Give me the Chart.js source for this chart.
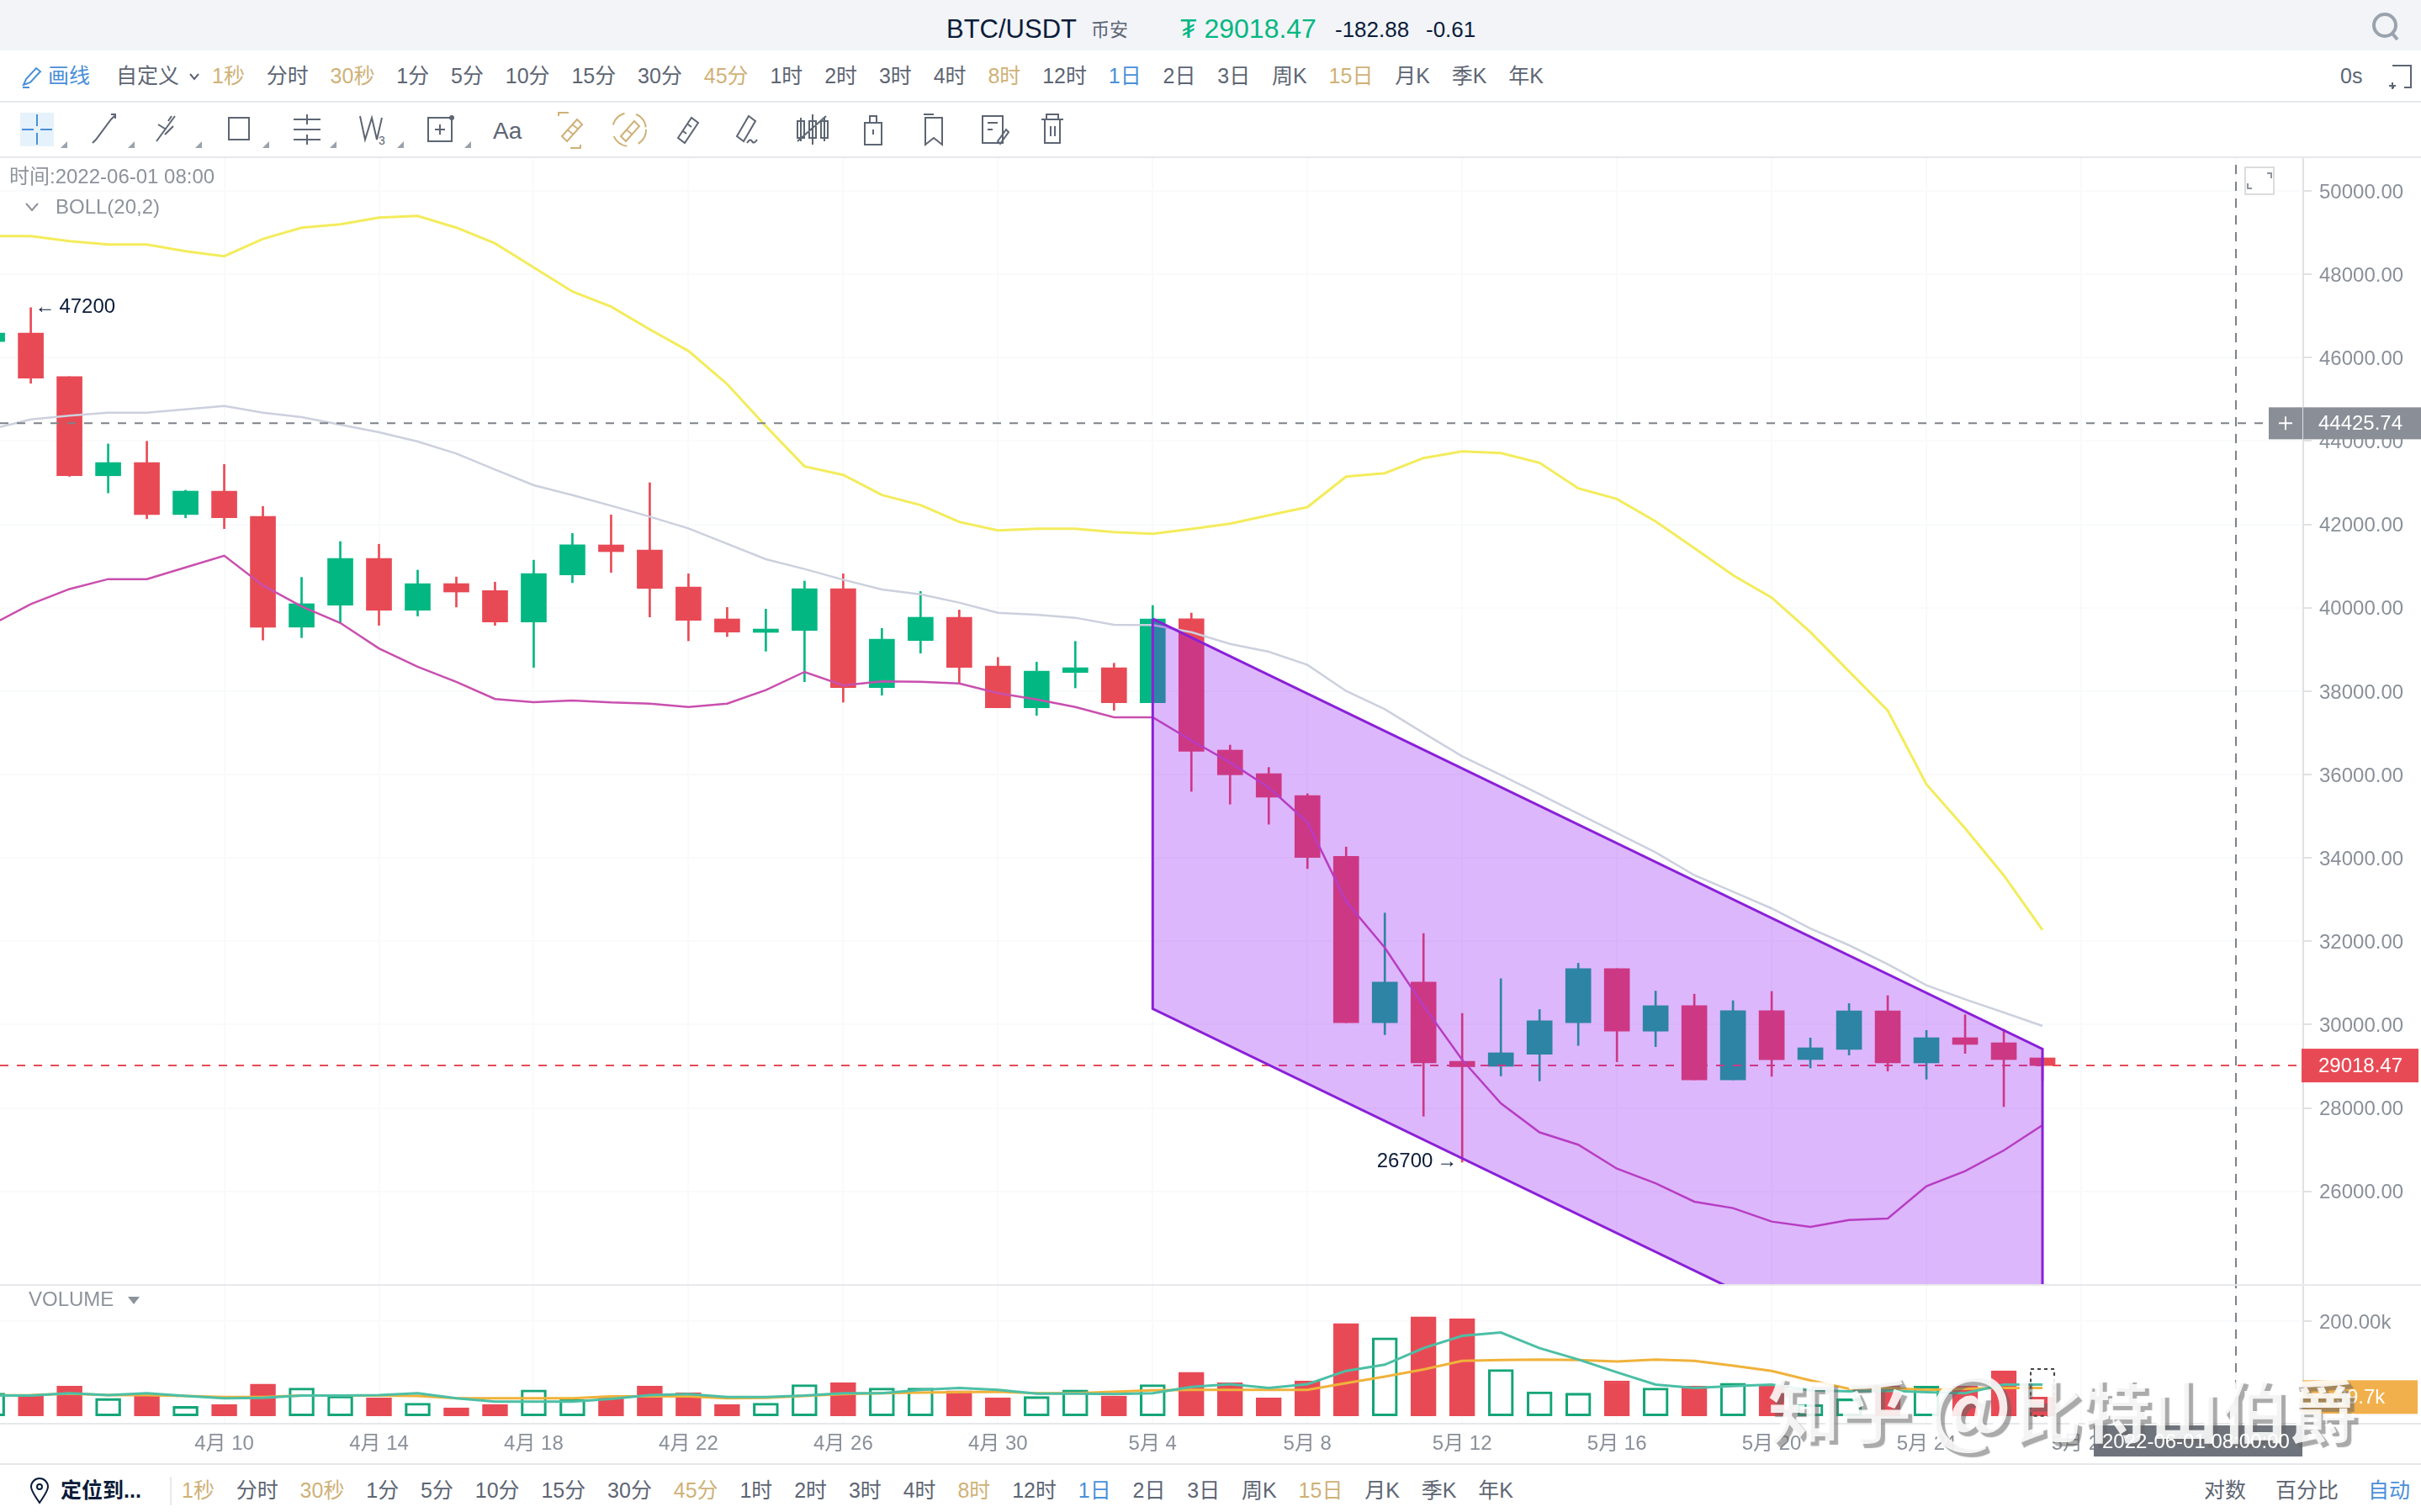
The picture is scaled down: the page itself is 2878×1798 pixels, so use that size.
<!DOCTYPE html>
<html lang="zh">
<head>
<meta charset="UTF-8">
<title>BTC/USDT</title>
<script src="https://cdn.jsdelivr.net/npm/chart.js"></script>
<style>
    * { box-sizing: border-box; }
    html, body { margin: 0; padding: 0; background: #fff; overflow: hidden; }
    body { width: 2878px; height: 1798px; position: relative; font-family: 'Liberation Sans', 'Noto Sans CJK SC', sans-serif; color: #5d6573; }
    canvas { position: absolute; left: 0; }
    .abs { position: absolute; white-space: nowrap; line-height: 1; }
    .hline { position: absolute; left: 0; width: 2878px; height: 2px; background: #e6e8eb; }
    #header { position: absolute; left: 0; top: 0; width: 2878px; height: 60px; background: #f2f4f8; }
    .periods { position: absolute; display: flex; gap: 25.85px; font-size: 25px; line-height: 1; white-space: nowrap; }
    .gold { color: #cfb177; }
    .blue { color: #4a8fd8; }
    #watermark { position: absolute; left: 2102px; top: 1606px; font-family: 'Noto Sans CJK SC', sans-serif; font-weight: bold; font-size: 85px; line-height: 1.2; color: rgba(255, 255, 255, 0.88); text-shadow: 5px 5px 1px rgba(100, 100, 100, 0.55); white-space: pre; z-index: 5; }
    #watermark .at { font-size: 100px; }
    #watermark .name { font-size: 82px; }
    #dateText { left: 2499px; top: 1702px; font-size: 24px; color: #fff; z-index: 6; }
</style>
</head>
<body>
<div id="header"></div>
<div class="abs" style="left:1125px;top:19px;font-size:31px;color:#0b1c3a">BTC/USDT</div>
<div class="abs" style="left:1297px;top:25px;font-size:22px;color:#5d6573">币安</div>
<div class="abs" style="left:1403px;top:18px;font-size:32px;color:#03b782">₮ 29018.47</div>
<div class="abs" style="left:1587px;top:22px;font-size:26px;color:#0b1c3a">-182.88</div>
<div class="abs" style="left:1695px;top:22px;font-size:26px;color:#0b1c3a">-0.61</div>
<svg class="abs" style="left:2815px;top:12px" width="42" height="42" fill="none" stroke="#9aa2ad" stroke-width="4"><circle cx="20" cy="18" r="13"/><path d="M29 28l6 7"/></svg>

<svg class="abs" style="left:24px;top:76px" width="30" height="30" fill="none" stroke="#4a8fd8" stroke-width="2"><path d="M4 25l3-7L19 5l5 4-12 13zM3 28h8"/></svg>
<div class="abs blue" style="left:57px;top:78px;font-size:25px">画线</div>
<div class="abs" style="left:138px;top:78px;font-size:25px">自定义</div>
<svg class="abs" style="left:224px;top:86px" width="14" height="10" fill="none" stroke="#5d6573" stroke-width="2"><path d="M2 2l5 6 5-6"/></svg>
<div class="periods" id="topPeriods" style="left:252px;top:78px"></div>
<div class="abs" style="left:2782px;top:78px;font-size:25px">0s</div>
<svg class="abs" style="left:2838px;top:76px" width="32" height="32" fill="none" stroke="#5d6573" stroke-width="2"><path d="M6 2h22v26h-8M6 22v2M6 28h2M2 26h8M6 22v8"/></svg>
<div class="hline" style="top:120px"></div>

<svg class="abs" style="left:0;top:122px" width="1300" height="64" fill="none" stroke="#5d6573" stroke-width="2">
    <rect x="24" y="12" width="40" height="40" fill="#e6f2fb" stroke="none"/>
    <path d="M44 14v14M44 36v14M26 32h14M48 32h14" stroke="#4a8fd8"/>
    <path d="M110 48l4-4 18-24 4-4M132 14h5v5"/>
    <path d="M186 46l22-30M188 26l8 5M196 38l10-10M204 16l-4 6"/>
    <path d="M272 18h24v26h-24z"/>
    <path d="M349 20h32M349 44h32M349 32h32M365 14v12M365 38v12"/>
    <path d="M428 16l6 28 8-26 6 26 6-26"/><text x="450" y="50" font-size="14" fill="#5d6573" stroke="none">3</text>
    <path d="M509 18h28v28h-28zM523 26v12M517 32h12"/><circle cx="537" cy="18" r="2"/>
    <g stroke="#cfb177"><path d="M664 16v-4h12M690 50v4h-12M668 40l18-20 6 6-18 20zM674 32l8 6M680 26l8 6"/></g>
    <g stroke="#cfb177"><circle cx="748" cy="32" r="20" stroke-dasharray="20 14"/><path d="M738 40l16-18 6 6-16 18zM744 32l8 6"/></g>
    <path d="M806 42l16-24 8 6-16 24zM812 34l4 3M818 26l4 3"/>
    <path d="M876 40l14-24 8 6-14 24zM888 48q4-6 6-2t6-2"/>
    <path d="M952 18v28M966 14v36M980 18v28M948 22h8v20h-8zM962 22h8v20h-8zM976 22h8v20h-8zM948 46l34-30"/>
    <path d="M1028 24h20v26h-20zM1034 24v-8h8v8M1038 32v6"/>
    <path d="M1098 14h12M1100 18h20v32l-10-8-10 8z"/>
    <path d="M1168 16h24v32h-24zM1174 24h12M1174 32h6M1186 46l10-14 3 3-10 14z"/>
    <path d="M1238 20h26M1244 20v-6h14v6M1242 20v28h18v-28M1249 28v12M1254 28v12"/>
    <g fill="#9aa2ad" stroke="none"><path d="M72 54h8v-8zM152 54h8v-8zM232 54h8v-8zM312 54h8v-8zM392 54h8v-8zM472 54h8v-8zM552 54h8v-8z"/></g>
</svg>
<div class="abs" style="left:586px;top:142px;font-size:28px">Aa</div>
<div class="hline" style="top:186px"></div>

<canvas id="priceChart" width="2878" height="1339" style="top:188px"></canvas>
<div class="abs" style="left:11px;top:198px;font-size:24px;color:#8d939c">时间:2022-06-01 08:00</div>
<svg class="abs" style="left:29px;top:240px" width="18" height="12" fill="none" stroke="#8d939c" stroke-width="2"><path d="M2 2l7 8 7-8"/></svg>
<div class="abs" style="left:66px;top:234px;font-size:24px;color:#8d939c">BOLL(20,2)</div>
<svg class="abs" style="left:2668px;top:198px" width="36" height="34" fill="#fff" stroke="#dcdcdc" stroke-width="2"><rect x="1" y="1" width="34" height="32"/><path d="M27 8h5v6M9 26H4v-6" fill="none" stroke="#8d939c"/></svg>

<div class="hline" style="top:1527px"></div>
<canvas id="volumeChart" width="2878" height="211" style="top:1529px"></canvas>
<div class="abs" style="left:34px;top:1533px;font-size:24px;color:#8d939c">VOLUME</div>
<svg class="abs" style="left:150px;top:1540px" width="18" height="12" fill="#8d939c"><path d="M2 2h14l-7 9z"/></svg>
<div class="hline" style="top:1692px"></div>
<div class="hline" style="top:1740px"></div>

<svg class="abs" style="left:34px;top:1757px" width="26" height="32" fill="none" stroke="#0b1c3a" stroke-width="2"><path d="M13 30C6 20 3 15 3 11a10 10 0 0 1 20 0c0 4-3 9-10 19z"/><circle cx="13" cy="11" r="3"/></svg>
<div class="abs" style="left:72px;top:1760px;font-size:25px;font-weight:bold;color:#0b1c3a">定位到...</div>
<div class="abs" style="left:202px;top:1756px;width:2px;height:34px;background:#e6e8eb"></div>
<div class="periods" id="bottomPeriods" style="left:216px;top:1760px"></div>
<div class="abs" style="left:2620px;top:1760px;font-size:25px">对数</div>
<div class="abs" style="left:2705px;top:1760px;font-size:25px">百分比</div>
<div class="abs blue" style="left:2815px;top:1760px;font-size:25px">自动</div>

<div id="watermark">知乎 <span class="at">@</span><span class="name">比特山伯爵</span></div>
<div class="abs" id="dateText">2022-06-01 08:00:00</div>

<script>
    // daily candles, 4月4 .. 5月27 (index 0 = 4月4)
    const opens = [46387, 46590, 45544, 43167, 43484, 42237, 42799, 42194, 39535, 40061, 41185, 39939, 40580, 40414, 39658, 40789, 41508, 41387, 40499, 39733, 39410, 39457, 40459, 38085, 39215, 39773, 38603, 37601, 38448, 38562, 37722, 39735, 36586, 36021, 35493, 34039, 30046, 31019, 29120, 29000, 29287, 30046, 31343, 29843, 30454, 28675, 30334, 29162, 29404, 30331, 29081, 29686, 29565, 29202];
    const closes = [46590, 45508, 43167, 43484, 42237, 42799, 42158, 39535, 40097, 41185, 39939, 40580, 40378, 39658, 40818, 41510, 41346, 40465, 39699, 39417, 39490, 40459, 38085, 39248, 39773, 38569, 37601, 38482, 38562, 37722, 39733, 36558, 35993, 35456, 34011, 30046, 31019, 29083, 28990, 29324, 30093, 31343, 29843, 30454, 28675, 30334, 29157, 29444, 30331, 29081, 29686, 29525, 29161, 29018];
    const highs = [46700, 47200, 45544, 43930, 43995, 42821, 43440, 42432, 40731, 41589, 41524, 40904, 40739, 40616, 41142, 41783, 42227, 43000, 40815, 40008, 39968, 40640, 40815, 39504, 40392, 39948, 38811, 38697, 39195, 38670, 40055, 39874, 36706, 36169, 35539, 34261, 32677, 32186, 30269, 31102, 30361, 31473, 31343, 30806, 30732, 30574, 30797, 29679, 30506, 30695, 29861, 30237, 29888, 29202];
    const lows = [46200, 45386, 43152, 42756, 42136, 42158, 41899, 39225, 39283, 39651, 39579, 39802, 40018, 39579, 38570, 40602, 40849, 39780, 39208, 39309, 38959, 38226, 37735, 37904, 38912, 38186, 37601, 37420, 38078, 37541, 37722, 35595, 35289, 34807, 33742, 30046, 29759, 27804, 26700, 28768, 28648, 29500, 29110, 29472, 28675, 28675, 28759, 28960, 29269, 28886, 28691, 29309, 28032, 28658];

    const bollUpper = [48918, 48918, 48797, 48716, 48716, 48555, 48434, 48850, 49119, 49200, 49361, 49402, 49119, 48743, 48165, 47586, 47223, 46679, 46161, 45367, 44359, 43391, 43189, 42705, 42464, 42060, 41858, 41898, 41898, 41817, 41777, 41891, 42019, 42220, 42415, 43148, 43229, 43592, 43753, 43713, 43478, 42866, 42610, 42072, 41434, 40781, 40243, 39416, 38475, 37534, 35765, 34710, 33580, 32270];
    const bollMid = [44291, 44520, 44608, 44682, 44682, 44762, 44843, 44682, 44574, 44392, 44211, 43989, 43700, 43317, 42940, 42705, 42449, 42187, 41904, 41535, 41165, 40930, 40674, 40439, 40324, 40123, 39881, 39833, 39760, 39591, 39585, 39416, 39134, 38946, 38630, 38004, 37567, 36996, 36438, 35987, 35530, 35059, 34594, 34131, 33585, 33187, 32788, 32308, 31905, 31448, 30943, 30607, 30291, 29968];
    const bollLower = [39600, 40090, 40450, 40688, 40688, 40969, 41250, 40537, 40033, 39636, 39024, 38584, 38224, 37813, 37734, 37777, 37729, 37702, 37621, 37702, 38025, 38462, 38139, 38233, 38226, 38186, 37951, 37803, 37621, 37372, 37372, 36818, 36290, 35688, 34854, 32955, 31844, 30454, 29157, 28110, 27416, 27119, 26545, 26193, 25752, 25598, 25275, 25147, 25315, 25349, 26122, 26485, 26983, 27588];

    // volume, in thousands
    const volumes = [48, 43, 63, 37, 43, 20, 24, 67, 59, 42, 38, 27, 17, 24, 55, 35, 42, 63, 49, 24, 27, 66, 70, 59, 59, 53, 38, 41, 55, 42, 66, 92, 70, 38, 74, 195, 165, 209, 205, 98, 51, 48, 74, 59, 63, 69, 63, 24, 36, 63, 63, 63, 95, 39.7];
    const volMa5 = [43, 43, 48, 44, 48, 42, 37, 38, 43, 43, 44, 48, 37, 30, 30, 30, 36, 44, 46, 40, 40, 43, 48, 48, 55, 59, 55, 47, 47, 46, 48, 61, 67, 59, 67, 95, 108, 143, 169, 176, 143, 119, 92, 66, 59, 63, 66, 54, 52, 53, 50, 48, 66, 66];
    const volMa10 = [43, 44, 47, 44, 44, 42, 40, 40, 43, 43, 43, 42, 37, 37, 37, 37, 41, 41, 41, 37, 38, 42, 46, 48, 49, 50, 51, 48, 48, 51, 54, 55, 55, 55, 55, 69, 83, 98, 116, 118, 119, 118, 115, 119, 116, 106, 95, 75, 57, 59, 55, 57, 59, 59];
    const volPredicted = 98.8;
    const volTicks = [200];

    const tickDays = [6, 10, 14, 18, 22, 26, 30, 34, 38, 42, 46, 50, 54, 58];
    const tickLabels = ['4月 10', '4月 14', '4月 18', '4月 22', '4月 26', '4月 30', '5月 4', '5月 8', '5月 12', '5月 16', '5月 20', '5月 24', '5月 28', ''];
    const priceTicks = [26000, 28000, 30000, 32000, 34000, 36000, 38000, 40000, 42000, 44000, 46000, 48000, 50000];

    const lastPrice = 29018.47;
    const crossPrice = 44425.74;
    const crossDay = 58;
    const channelPrices = [39735, 29417, 20062, 30380, 39735];
    const channelDays = [30, 53, 53, 30, 30];

    const periodNames = ['1秒', '分时', '30秒', '1分', '5分', '10分', '15分', '30分', '45分', '1时', '2时', '3时', '4时', '8时', '12时', '1日', '2日', '3日', '周K', '15日', '月K', '季K', '年K'];
    const goldPeriods = ['1秒', '30秒', '45分', '8时', '15日'];

    const RED = '#e84a55', GREEN = '#03b782';
    const X_MIN = 0.204, X_MAX = 59.74;
    const AXIS_COLOR = '#dfe1e4', GRID_COLOR = '#f9fafb', LABEL_COLOR = '#8a9099';
    const FONT = "'Liberation Sans', 'Noto Sans CJK SC', sans-serif";

    ['topPeriods', 'bottomPeriods'].forEach(id => {
        document.getElementById(id).innerHTML = periodNames.map(p => {
            let cls = goldPeriods.includes(p) ? 'gold' : (p === '1日' ? 'blue' : '');
            return `<span class="${cls}">${p}</span>`;
        }).join('');
    });

    function isUp(i) { return closes[i] >= opens[i]; }
    function series(values) { return values.map((v, i) => ({ x: i, y: v })); }
    function lineSet(values, color, width, order) {
        return { type: 'line', data: series(values), borderColor: color, borderWidth: width, pointRadius: 0, tension: 0, fill: false, order: order };
    }
    function dashSet(points, color, dash, order) {
        return { type: 'line', data: points, borderColor: color, borderWidth: 2, borderDash: dash, pointRadius: 0, tension: 0, fill: false, order: order };
    }
    // no label margins: the panes have to fill their canvas exactly
    function noPadding(s) {
        s.paddingTop = s.paddingBottom = s.paddingLeft = s.paddingRight = 0;
    }
    function xAxis(showLabels) {
        return {
            type: 'linear', min: X_MIN, max: X_MAX, offset: false,
            afterBuildTicks: s => { s.ticks = tickDays.map(d => ({ value: d })); },
            afterFit: s => { s.height = showLabels ? 48 : 0; noPadding(s); },
            grid: { color: GRID_COLOR, lineWidth: 2, drawTicks: false, offset: false },
            border: { display: false },
            ticks: {
                display: showLabels, autoSkip: false, maxRotation: 0, padding: 11, color: LABEL_COLOR,
                font: { size: 24, family: FONT },
                callback: v => tickLabels[tickDays.indexOf(v)]
            }
        };
    }
    function yAxis(min, max, values, format) {
        return {
            position: 'right', min: min, max: max,
            afterBuildTicks: s => { s.ticks = values.map(v => ({ value: v })); },
            afterFit: s => { s.width = 140; noPadding(s); },
            grid: { color: GRID_COLOR, lineWidth: 2, tickColor: AXIS_COLOR, tickLength: 10 },
            border: { display: true, color: AXIS_COLOR, width: 2 },
            ticks: { autoSkip: false, padding: 9, labelOffset: 2, color: LABEL_COLOR, font: { size: 24, family: FONT }, callback: format }
        };
    }
    function tag(ctx, text, y, left, right, height, bg) {
        ctx.save();
        ctx.fillStyle = bg;
        ctx.fillRect(left, y - height / 2, right - left, height);
        ctx.fillStyle = '#fff';
        ctx.font = '24px ' + FONT;
        ctx.textAlign = 'center';
        ctx.textBaseline = 'middle';
        ctx.fillText(text, 2806, y + 1);
        ctx.restore();
    }

    const priceTags = {
        id: 'priceTags',
        afterDraw(chart) {
            const ctx = chart.ctx, x = chart.scales.x, y = chart.scales.y;
            let yCross = y.getPixelForValue(crossPrice);
            ctx.fillStyle = '#8a8e96';
            ctx.fillRect(2697, yCross - 19, 40, 38);
            ctx.strokeStyle = '#fff';
            ctx.lineWidth = 2;
            ctx.beginPath();
            ctx.moveTo(2709, yCross); ctx.lineTo(2725, yCross);
            ctx.moveTo(2717, yCross - 8); ctx.lineTo(2717, yCross + 8);
            ctx.stroke();
            tag(ctx, crossPrice.toFixed(2), yCross, 2738, 2878, 38, '#8a8e96');
            tag(ctx, lastPrice.toFixed(2), y.getPixelForValue(lastPrice), 2736, 2875, 40, RED);

            ctx.fillStyle = '#0b1c3a';
            ctx.font = '24px ' + FONT;
            ctx.textBaseline = 'middle';
            ctx.textAlign = 'left';
            ctx.fillText('←\u2009' + Math.max(...highs), x.getPixelForValue(1) + 5, y.getPixelForValue(47200));
            ctx.textAlign = 'right';
            ctx.fillText(Math.min(...lows) + '\u2009→', x.getPixelForValue(38) - 6, y.getPixelForValue(26700) - 1);
        }
    };

    const volumeTags = {
        id: 'volumeTags',
        afterDatasetsDraw(chart) {
            const ctx = chart.ctx, x = chart.scales.x, y = chart.scales.y;
            // dotted box of the still open bar
            let cx = x.getPixelForValue(volumes.length - 1);
            let top = y.getPixelForValue(volPredicted), bottom = y.getPixelForValue(0);
            ctx.save();
            ctx.strokeStyle = '#444';
            ctx.lineWidth = 2;
            ctx.setLineDash([4, 4]);
            ctx.strokeRect(cx - 14, top, 28, bottom - top);
            ctx.restore();
        },
        afterDraw(chart) {
            const ctx = chart.ctx, y = chart.scales.y;
            let last = volumes[volumes.length - 1];
            tag(ctx, last.toFixed(1) + 'k', y.getPixelForValue(last), 2737, 2874, 40, '#f2b04c');
            // date text sits in the page, above the watermark
            ctx.fillStyle = '#6f747c';
            ctx.fillRect(2489, 166, 248, 37);
        }
    };

    new Chart(document.getElementById('priceChart'), {
        type: 'bar',
        data: {
            datasets: [
                { data: lows.map((l, i) => ({ x: i, y: [l, highs[i]] })), barThickness: 2, grouped: false, backgroundColor: lows.map((l, i) => isUp(i) ? GREEN : RED), order: 6 },
                { data: opens.map((o, i) => ({ x: i, y: [o, closes[i]] })), barThickness: 30, grouped: false, backgroundColor: opens.map((o, i) => isUp(i) ? GREEN : RED), order: 5 },
                lineSet(bollUpper, '#f3ec5c', 3, 4),
                lineSet(bollMid, '#ccd0de', 2.5, 4),
                lineSet(bollLower, '#c94fae', 2.5, 4),
                dashSet([{ x: X_MIN, y: crossPrice }, { x: X_MAX, y: crossPrice }], '#7d8289', [10, 10], 3),
                dashSet([{ x: X_MIN, y: lastPrice }, { x: X_MAX, y: lastPrice }], RED, [10, 10], 3),
                dashSet([{ x: crossDay, y: 23775 }, { x: crossDay, y: 50788 }], '#7d8289', [11, 9], 3),
                {
                    type: 'line', data: channelDays.map((d, i) => ({ x: d, y: channelPrices[i] })),
                    borderColor: '#8a20d8', borderWidth: 3, backgroundColor: 'rgba(141, 18, 245, 0.3)',
                    fill: 'shape', pointRadius: 0, tension: 0, order: 1
                }
            ]
        },
        options: {
            responsive: false, animation: false,
            layout: { padding: 0, autoPadding: false },
            plugins: { legend: { display: false }, tooltip: { enabled: false } },
            scales: {
                x: xAxis(false),
                y: yAxis(23775, 50788, priceTicks, v => v.toFixed(2))
            }
        },
        plugins: [priceTags]
    });

    new Chart(document.getElementById('volumeChart'), {
        type: 'bar',
        data: {
            datasets: [
                {
                    data: series(volumes), barThickness: 30, grouped: false, borderSkipped: false, order: 4,
                    backgroundColor: volumes.map((v, i) => isUp(i) ? 'rgba(255, 255, 255, 0)' : RED),
                    borderColor: volumes.map((v, i) => isUp(i) ? '#14a578' : RED),
                    borderWidth: 2.5
                },
                lineSet(volMa5, '#4cbfa6', 3, 2),
                lineSet(volMa10, '#f0b23a', 3, 2),
                dashSet([{ x: crossDay, y: -14.7 }, { x: crossDay, y: 274.5 }], '#7d8289', [11, 9], 3)
            ]
        },
        options: {
            responsive: false, animation: false,
            layout: { padding: 0, autoPadding: false },
            plugins: { legend: { display: false }, tooltip: { enabled: false } },
            scales: {
                x: xAxis(true),
                y: yAxis(-14.7, 274.5, volTicks, v => v.toFixed(2) + 'k')
            }
        },
        plugins: [volumeTags]
    });
</script>
</body>
</html>
